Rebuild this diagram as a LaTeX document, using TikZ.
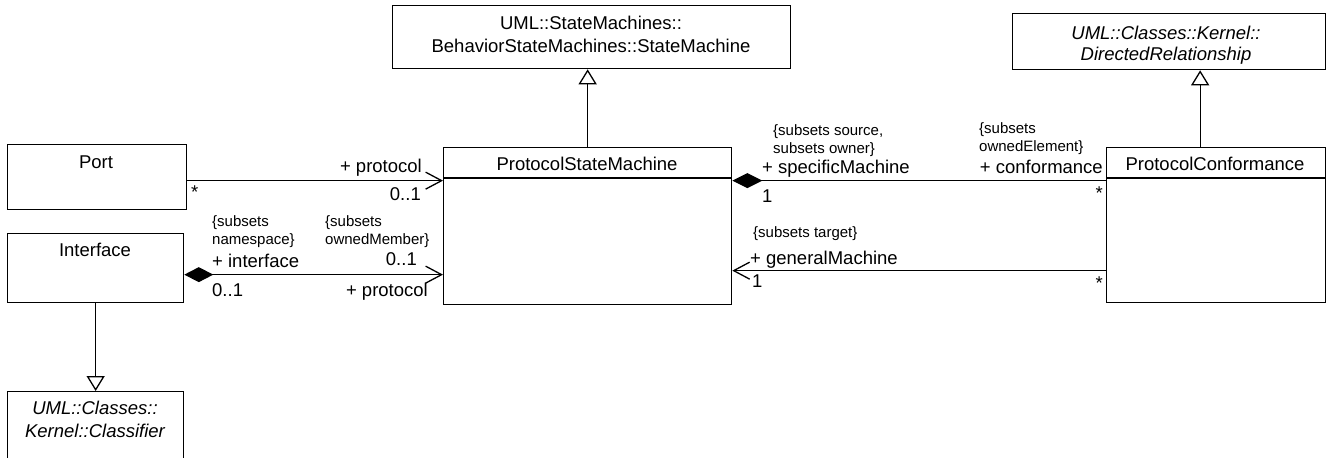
\documentclass[tikz,border=0pt]{standalone}
\usepackage{fontspec}
\setmainfont{Liberation Sans}
\usetikzlibrary{arrows.meta}

\tikzset{
  umlbox/.style={draw, line width=1.3pt, inner sep=0pt, anchor=north west},
  clsname/.style={font=\fontsize{18.5}{23}\selectfont, inner sep=0pt, align=center, anchor=base},
  role/.style={font=\fontsize{18.5}{23}\selectfont, inner sep=0pt},
  cons/.style={font=\fontsize{15}{18}\selectfont, inner sep=0pt, align=left, anchor=base west},
  assoc/.style={line width=1.3pt},
  gen/.style={line width=1.3pt, -{Triangle[open, length=15pt, width=18pt]}},
  nav/.style={-{Straight Barb[length=16pt, width=17pt]}},
  comp/.style={{Diamond[length=30pt, width=15pt]}-},
  compnav/.style={{Diamond[length=29pt, width=15pt]}-{Straight Barb[length=16pt, width=17pt]}}
}

\begin{document}
\begin{tikzpicture}[x=1pt, y=-1pt]
\useasboundingbox (0,0) rectangle (1334,458);
\clip (0,0) rectangle (1334,458);

% classes
\node[umlbox, minimum width=398pt, minimum height=63pt] (sm) at (392,5) {};
\node[umlbox, minimum width=313pt, minimum height=56pt] (dr) at (1012,13) {};
\node[umlbox, minimum width=179pt, minimum height=65pt] (port) at (7,144) {};
\node[umlbox, minimum width=176pt, minimum height=69pt] (iface) at (7,233) {};
\node[umlbox, minimum width=176pt, minimum height=80pt] (clsf) at (7,391) {};
\node[umlbox, minimum width=288pt, minimum height=157pt] (psm) at (443,147) {};
\node[umlbox, minimum width=219pt, minimum height=155pt] (pc) at (1106,147) {};
\draw[assoc] ([yshift=-31pt]psm.north west) -- ([yshift=-31pt]psm.north east);
\draw[assoc] ([yshift=-31pt]pc.north west) -- ([yshift=-31pt]pc.north east);

% names (base = last line)
\node[clsname] (smname) at (591,52) {UML::StateMachines::\\BehaviorStateMachines::StateMachine};
\node[clsname, font=\fontsize{18.5}{21}\selectfont\itshape] (drname) at (1166,60) {UML::Classes::Kernel::\\DirectedRelationship};
\node[clsname] (portname) at (96,168) {Port};
\node[clsname] (ifacename) at (95,256) {Interface};
\node[clsname, font=\fontsize{18.5}{23}\selectfont\itshape] (clsfname) at (95,437) {UML::Classes::\\Kernel::Classifier};
\node[clsname] (psmname) at (587,170) {ProtocolStateMachine};
\node[clsname] (pcname) at (1215,170) {ProtocolConformance};

% generalizations
\coordinate (pcgen) at ([xshift=-16pt]pc.north);
\draw[gen] (psm.north) -- (psm.north |- sm.south);
\draw[gen] (pcgen) -- (pcgen |- dr.south);
\draw[gen] (iface.south) -- (clsf.north);

% associations
\coordinate (portA) at ([yshift=-3.5pt]port.east);
\coordinate (ifaceA) at ([yshift=-6.5pt]iface.east);
\coordinate (psmA) at ([yshift=45.5pt]psm.east);
\coordinate (psmB) at ([yshift=-44.5pt]psm.east);
\draw[assoc, nav] (portA) -- (portA -| psm.west);
\draw[assoc, compnav] (ifaceA) -- (ifaceA -| psm.west);
\draw[assoc, comp] (psmA) -- (psmA -| pc.west);
\draw[assoc, nav] (psmB -| pc.west) -- (psmB);

\node[role, anchor=base east] (portrole) at (422,172) {+ protocol};
\node[role, anchor=base east] (portmult) at (421,200) {0..1};
\node[role, anchor=base west] (portstar) at (191,198) {*};

\node[cons] (ifacecons) at (212,244) {\{subsets\\namespace\}};
\node[role, anchor=base west] (ifacerole) at (212,267) {+ interface};
\node[role, anchor=base west] (ifacemult) at (212,296) {0..1};
\node[cons] (protocons) at (325,244) {\{subsets\\ownedMember\}};
\node[role, anchor=base east] (protomult) at (417,265) {0..1};
\node[role, anchor=base east] (protorole) at (428,296) {+ protocol};

\node[cons] (specons) at (773,153) {\{subsets source,\\subsets owner\}};
\node[role, anchor=base west] (sperole) at (762,173) {+ specificMachine};
\node[role, anchor=base west] (spemult) at (762,202) {1};
\node[cons] (confcons) at (979,151) {\{subsets\\ownedElement\}};
\node[role, anchor=base east] (confrole) at (1103,173) {+ conformance};
\node[role, anchor=base east] (confstar) at (1103,199) {*};
\node[cons] (gencons) at (753,237) {\{subsets target\}};
\node[role, anchor=base west] (genrole) at (750,264) {+ generalMachine};
\node[role, anchor=base west] (genmult) at (752,287) {1};
\node[role, anchor=base east] (genstar) at (1103,289) {*};
\end{tikzpicture}
\end{document}
